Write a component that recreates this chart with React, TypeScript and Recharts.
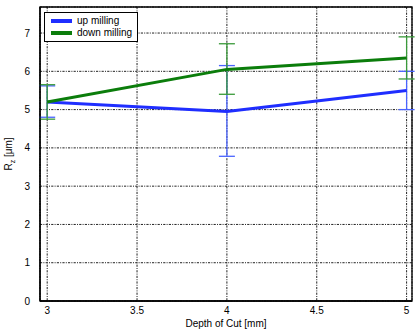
import React from "react";
import {
  ComposedChart,
  Line,
  XAxis,
  YAxis,
  CartesianGrid,
  ErrorBar,
  ReferenceArea,
  Legend,
  Label,
} from "recharts";

// Depth of cut [mm]
const depth = [3, 4, 5];
// Up milling: mean Rz and error bar bounds [µm]
const upRz = [5.2, 4.95, 5.5];
const upLow = [4.8, 3.78, 5.0];
const upHigh = [5.62, 6.15, 6.0];
// Down milling: mean Rz and error bar bounds [µm]
const downRz = [5.2, 6.05, 6.35];
const downLow = [4.75, 5.4, 5.8];
const downHigh = [5.65, 6.72, 6.9];

const xTicks = [3, 3.5, 4, 4.5, 5];
const yTicks = [0, 1, 2, 3, 4, 5, 6, 7];
const xDomain = [2.96, 5.03];
const yDomain = [0, 7.68];

const seriesNames = { up: "up milling", down: "down milling" };
const colors = {
  up: "#1f2eff",
  upErr: "#4a64ff",
  down: "#0b7d0b",
  downErr: "#3a9a3a",
};

const rows = depth.map((d, i) => ({
  depth: d,
  up: upRz[i],
  upErr: [upRz[i] - upLow[i], upHigh[i] - upRz[i]],
  down: downRz[i],
  downErr: [downRz[i] - downLow[i], downHigh[i] - downRz[i]],
}));

const FONT = "'Liberation Sans', Arial, sans-serif";

const LegendBox = () => (
  <div
    style={{
      border: "1px solid #000",
      background: "#fff",
      padding: "2px 4px 2px 6px",
      fontFamily: FONT,
      fontSize: 10,
      lineHeight: "12px",
      color: "#000",
      width: 82,
    }}
  >
    {[
      { c: colors.up, t: seriesNames.up },
      { c: colors.down, t: seriesNames.down },
    ].map((it) => (
      <div key={it.t} style={{ display: "flex", alignItems: "center" }}>
        <span
          style={{
            display: "inline-block",
            width: 21,
            height: 4,
            background: it.c,
            marginRight: 5,
          }}
        />
        <span>{it.t}</span>
      </div>
    ))}
  </div>
);

const YTitle = (props: any) => {
  const vb = props.viewBox || {};
  const cx = 12;
  const cy = vb.y + vb.height / 2;
  return (
    <text
      x={cx}
      y={cy}
      transform={`rotate(-90, ${cx}, ${cy})`}
      textAnchor="middle"
      fontFamily={FONT}
      fontSize={10}
      fill="#000"
    >
      R
      <tspan fontSize={7} dy={3}>
        z
      </tspan>
      <tspan dy={-3}> [μm]</tspan>
    </text>
  );
};

export default function App() {
  return (
    <div style={{ position: "absolute", left: 0, top: 0, background: "#fff" }}>
      <ComposedChart
        width={415}
        height={333}
        data={rows}
        margin={{ top: 7, right: 3, bottom: 0, left: 0 }}
      >
        <CartesianGrid
          stroke="#222"
          strokeWidth={1}
          strokeDasharray="2.2 1.2 1 1.2"
        />
        <XAxis
          dataKey="depth"
          type="number"
          domain={xDomain}
          ticks={xTicks}
          allowDataOverflow
          height={32}
          tickLine={false}
          axisLine={{ stroke: "#000", strokeWidth: 1.3 }}
          tick={{ fontFamily: FONT, fontSize: 10, fill: "#000" }}
          tickMargin={0}
        >
          <Label
            value="Depth of Cut [mm]"
            position="insideBottom"
            offset={6}
            style={{ fontFamily: FONT, fontSize: 10, fill: "#000" }}
          />
        </XAxis>
        <YAxis
          type="number"
          domain={yDomain}
          ticks={yTicks}
          allowDataOverflow
          width={40}
          tickLine={false}
          axisLine={{ stroke: "#000", strokeWidth: 1.3 }}
          tick={{ fontFamily: FONT, fontSize: 10, fill: "#000" }}
          tickMargin={4}
        >
          <Label content={<YTitle />} />
        </YAxis>
        <ReferenceArea
          x1={xDomain[0]}
          x2={xDomain[1]}
          y1={yDomain[0]}
          y2={yDomain[1]}
          fill="none"
          stroke="#000"
          strokeWidth={1.3}
          ifOverflow="visible"
        />
        <Line
          dataKey="up"
          stroke={colors.up}
          strokeWidth={3}
          dot={false}
          isAnimationActive={false}
          legendType="none"
        >
          <ErrorBar
            dataKey="upErr"
            direction="y"
            width={8}
            stroke={colors.upErr}
            strokeWidth={1.3}
          />
        </Line>
        <Line
          dataKey="down"
          stroke={colors.down}
          strokeWidth={3}
          dot={false}
          isAnimationActive={false}
          legendType="none"
        >
          <ErrorBar
            dataKey="downErr"
            direction="y"
            width={8}
            stroke={colors.downErr}
            strokeWidth={1.3}
          />
        </Line>
        <Legend
          layout="vertical"
          align="center"
          verticalAlign="middle"
          content={<LegendBox />}
          wrapperStyle={{ left: 44, top: 12, width: "auto", height: "auto" }}
        />
      </ComposedChart>
    </div>
  );
}
